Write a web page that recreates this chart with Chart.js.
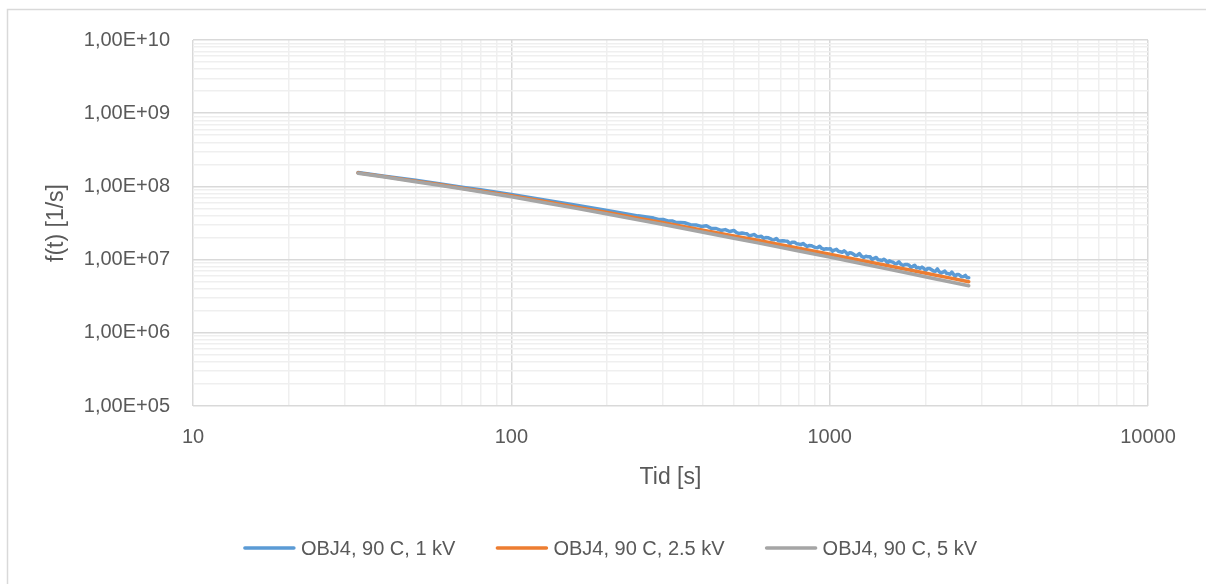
<!DOCTYPE html>
<html>
<head>
<meta charset="utf-8">
<script src="https://cdn.jsdelivr.net/npm/chart.js@4.4.1/dist/chart.umd.min.js"></script>
<style>
  html, body { margin: 0; padding: 0; background: #ffffff; overflow: hidden; }
  canvas { display: block; }
</style>
</head>
<body>
<canvas id="chart" width="1206" height="584"></canvas>
<script>
// Series names shown in the legend
const seriesNames = ['OBJ4, 90 C, 1 kV', 'OBJ4, 90 C, 2.5 kV', 'OBJ4, 90 C, 5 kV'];

// Shared time base [s] for the 2.5 kV and 5 kV measurements
const timeS = [33, 40, 50, 60, 70, 80, 100, 130, 160, 200, 250, 300, 400, 500, 600, 700, 800,
               1000, 1200, 1500, 1800, 2100, 2400, 2735];

// f(t) [1/s] at 2.5 kV
const f25kV = [1.53e8, 1.36e8, 1.18e8, 1.05e8, 9.46e7, 8.67e7, 7.45e7, 6.11e7, 5.21e7, 4.39e7,
               3.67e7, 3.18e7, 2.52e7, 2.11e7, 1.82e7, 1.60e7, 1.43e7, 1.18e7, 1.01e7, 8.37e6,
               7.16e6, 6.27e6, 5.58e6, 4.99e6];

// f(t) [1/s] at 5 kV
const f5kV = [1.51e8, 1.34e8, 1.16e8, 1.03e8, 9.27e7, 8.47e7, 7.24e7, 5.90e7, 5.01e7, 4.19e7,
              3.49e7, 3.01e7, 2.37e7, 1.96e7, 1.68e7, 1.47e7, 1.31e7, 1.08e7, 9.18e6, 7.53e6,
              6.40e6, 5.57e6, 4.94e6, 4.40e6];

// The 1 kV measurement is sampled more densely (it gets noisy at long times)
const time1kV = [33, 40, 50, 60, 70, 80, 100, 130, 160, 200, 250,
                 280, 290, 300, 310, 320, 330, 340, 350, 365, 380, 395, 410, 425, 440, 455, 470, 485,
                 500, 510, 520, 530, 540, 550, 560, 570, 580, 590,
                 600, 610, 620, 630, 640, 650, 660, 670, 680, 690,
                 700, 712, 725, 737, 750, 762, 775, 787, 800, 812,
                 825, 837, 850, 862, 875, 887, 900, 915, 930, 945,
                 960, 975, 990, 1005, 1020, 1035, 1050, 1065, 1080, 1095,
                 1110, 1125, 1140, 1155, 1170, 1185, 1200, 1220, 1240, 1260,
                 1280, 1300, 1320, 1340, 1360, 1380, 1400, 1420, 1440, 1460,
                 1480, 1500, 1520, 1540, 1560, 1580, 1600, 1625, 1650, 1675,
                 1700, 1725, 1750, 1775, 1800, 1825, 1850, 1875, 1900, 1925,
                 1950, 1975, 2000, 2030, 2060, 2090, 2120, 2150, 2180, 2210,
                 2240, 2270, 2300, 2330, 2360, 2390, 2420, 2450, 2480, 2510,
                 2540, 2570, 2600, 2635, 2670, 2700, 2735];

// f(t) [1/s] at 1 kV
const f1kV = [1.55e8, 1.38e8, 1.21e8, 1.08e8, 9.77e7, 8.99e7, 7.76e7, 6.41e7, 5.52e7, 4.70e7, 3.96e7,
              3.69e7, 3.54e7, 3.53e7, 3.38e7, 3.38e7, 3.21e7, 3.21e7, 3.19e7, 3.00e7, 2.98e7, 2.84e7, 2.90e7, 2.66e7, 2.66e7, 2.50e7, 2.57e7, 2.42e7,
              2.50e7, 2.34e7, 2.27e7, 2.31e7, 2.27e7, 2.25e7, 2.10e7, 2.16e7, 2.20e7, 2.07e7,
              2.05e7, 2.08e7, 1.95e7, 2.00e7, 1.99e7, 1.94e7, 1.86e7, 1.87e7, 1.94e7, 1.81e7,
              1.79e7, 1.81e7, 1.79e7, 1.78e7, 1.65e7, 1.72e7, 1.73e7, 1.65e7, 1.63e7, 1.60e7,
              1.66e7, 1.58e7, 1.51e7, 1.56e7, 1.55e7, 1.51e7, 1.47e7, 1.45e7, 1.52e7, 1.42e7,
              1.38e7, 1.41e7, 1.40e7, 1.41e7, 1.30e7, 1.35e7, 1.38e7, 1.30e7, 1.28e7, 1.26e7,
              1.32e7, 1.26e7, 1.17e7, 1.24e7, 1.23e7, 1.19e7, 1.15e7, 1.14e7, 1.21e7, 1.11e7,
              1.07e7, 1.11e7, 1.09e7, 1.09e7, 1.00e7, 1.04e7, 1.07e7, 9.94e6, 9.86e6, 9.75e6,
              1.01e7, 9.73e6, 8.97e6, 9.60e6, 9.39e6, 9.24e6, 8.87e6, 8.80e6, 9.35e6, 8.62e6,
              8.32e6, 8.54e6, 8.57e6, 8.38e6, 7.82e6, 8.08e6, 8.36e6, 7.71e6, 7.80e6, 7.58e6,
              7.89e6, 7.58e6, 7.13e6, 7.54e6, 7.55e6, 7.25e6, 6.97e6, 6.93e6, 7.48e6, 6.81e6,
              6.55e6, 6.75e6, 6.95e6, 6.50e6, 6.43e6, 6.31e6, 6.73e6, 6.30e6, 5.90e6, 6.26e6,
              6.28e6, 6.05e6, 5.82e6, 5.87e6, 6.08e6, 5.69e6, 5.64e6];

// Axis labels (one per decade)
const xTickLabels = ['10', '100', '1000', '10000'];
const yTickLabels = ['1,00E+05', '1,00E+06', '1,00E+07', '1,00E+08', '1,00E+09', '1,00E+10'];
const xTitle = 'Tid [s]';
const yTitle = 'f(t) [1/s]';

const seriesColors = ['#5B9BD5', '#ED7D31', '#A5A5A5'];
const textColor = '#595959';
const fontFamily = "'Liberation Sans', Arial, sans-serif";
const tickFont = { family: fontFamily, size: 20 };
const titleFont = { family: fontFamily, size: 23 };
const legendFontSize = 20;

function toPoints(xs, ys) {
  return xs.map((x, i) => ({ x: x, y: ys[i] }));
}

function isDecade(v) {
  const l = Math.log10(v);
  return Math.abs(l - Math.round(l)) < 1e-9;
}

// Gridline positions 1..9 x 10^n between two decades
function logGrid(min, max) {
  const out = [];
  for (let e = Math.round(Math.log10(min)); e < Math.round(Math.log10(max)); e++) {
    for (let s = 1; s <= 9; s++) out.push(s * Math.pow(10, e));
  }
  out.push(max);
  return out;
}

function decadeLabel(v, labels, firstExp) {
  if (!isDecade(v)) return '';
  const idx = Math.round(Math.log10(v)) - firstExp;
  return labels[idx] !== undefined ? labels[idx] : '';
}

const gridColor = (ctx) => (ctx.tick && isDecade(ctx.tick.value)) ? '#d9d9d9' : '#efefef';

// White background and the chart frame
const framePlugin = {
  id: 'frame',
  beforeDraw(chart) {
    const c = chart.ctx;
    c.save();
    c.fillStyle = '#ffffff';
    c.fillRect(0, 0, chart.width, chart.height);
    c.strokeStyle = '#d9d9d9';
    c.lineWidth = 1.5;
    c.beginPath();
    c.moveTo(7.5, chart.height);
    c.lineTo(7.5, 9.5);
    c.lineTo(chart.width, 9.5);
    c.stroke();
    c.restore();
  }
};

// Legend row below the axis title: a line sample followed by the series name
const legendPlugin = {
  id: 'lineLegend',
  afterDraw(chart) {
    const c = chart.ctx;
    const sample = 53, gap = 5, spacing = 40, rowY = 548, centerX = 610;
    c.save();
    c.font = legendFontSize + 'px ' + fontFamily;
    c.textBaseline = 'middle';
    c.textAlign = 'left';
    const items = chart.data.datasets.map(ds => ({ label: ds.label, color: ds.borderColor, w: c.measureText(ds.label).width }));
    const total = items.reduce((s, it) => s + sample + gap + it.w, 0) + spacing * (items.length - 1);
    let x = centerX - total / 2;
    items.forEach(it => {
      c.strokeStyle = it.color;
      c.lineWidth = 3.5;
      c.lineCap = 'round';
      c.beginPath();
      c.moveTo(x + 2, rowY);
      c.lineTo(x + sample - 2, rowY);
      c.stroke();
      c.fillStyle = textColor;
      c.fillText(it.label, x + sample + gap, rowY + 1);
      x += sample + gap + it.w + spacing;
    });
    c.restore();
  }
};

new Chart(document.getElementById('chart'), {
  type: 'scatter',
  data: {
    datasets: [
      { label: seriesNames[0], data: toPoints(time1kV, f1kV), borderColor: seriesColors[0], backgroundColor: seriesColors[0], order: 3 },
      { label: seriesNames[1], data: toPoints(timeS, f25kV), borderColor: seriesColors[1], backgroundColor: seriesColors[1], order: 2 },
      { label: seriesNames[2], data: toPoints(timeS, f5kV), borderColor: seriesColors[2], backgroundColor: seriesColors[2], order: 1 }
    ]
  },
  options: {
    responsive: false,
    animation: false,
    devicePixelRatio: 1,
    datasets: {
      scatter: { showLine: true, pointRadius: 0, borderWidth: 3.5, tension: 0, borderJoinStyle: 'round', borderCapStyle: 'round' }
    },
    layout: { padding: { top: 40, left: 8, right: 58, bottom: 88 } },
    plugins: {
      tooltip: { enabled: false },
      legend: { display: false }
    },
    scales: {
      x: {
        type: 'logarithmic',
        position: 'bottom',
        min: 10,
        max: 10000,
        afterBuildTicks(scale) { scale.ticks = logGrid(10, 10000).map(v => ({ value: v })); },
        afterFit(scale) { scale.height = 90; },
        ticks: {
          autoSkip: false, maxRotation: 0, padding: 19, color: textColor, font: tickFont,
          callback: (v) => decadeLabel(v, xTickLabels, 1)
        },
        grid: { color: gridColor, lineWidth: 1.5, drawTicks: false },
        border: { display: false },
        title: { display: true, text: xTitle, color: textColor, font: titleFont, padding: { top: 0, bottom: 5 } }
      },
      y: {
        type: 'logarithmic',
        position: 'left',
        min: 1e5,
        max: 1e10,
        afterBuildTicks(scale) { scale.ticks = logGrid(1e5, 1e10).map(v => ({ value: v })); },
        afterFit(scale) { scale.width = 185; },
        ticks: {
          autoSkip: false, padding: 23, color: textColor, font: tickFont,
          callback: (v) => decadeLabel(v, yTickLabels, 5)
        },
        grid: { color: gridColor, lineWidth: 1.5, drawTicks: false },
        border: { display: false },
        title: { display: true, text: yTitle, color: textColor, font: titleFont, padding: { top: 35, bottom: 0 } }
      }
    }
  },
  plugins: [framePlugin, legendPlugin]
});
</script>
</body>
</html>
